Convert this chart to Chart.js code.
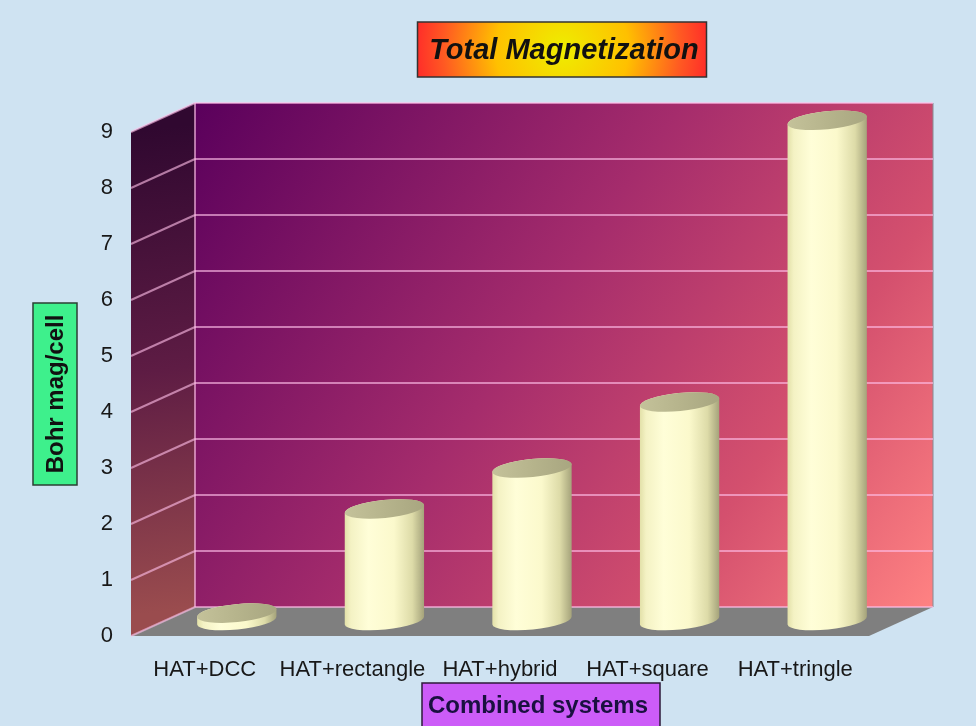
<!DOCTYPE html>
<html>
<head>
<meta charset="utf-8">
<script src="https://cdn.jsdelivr.net/npm/chart.js@4.4.1/dist/chart.umd.min.js"></script>
<style>
  html, body { margin: 0; padding: 0; background: #cfe3f2; }
  canvas { display: block; }
</style>
</head>
<body>
<canvas id="chart" width="976" height="726"></canvas>
<script>
// Data
const categories = ['HAT+DCC', 'HAT+rectangle', 'HAT+hybrid', 'HAT+square', 'HAT+tringle'];
const magnetization = [0.15, 2.01, 2.74, 3.92, 8.95];
const yTicks = [0, 1, 2, 3, 4, 5, 6, 7, 8, 9];
const chartTitle = 'Total Magnetization';
const yAxisTitle = 'Bohr mag/cell';
const xAxisTitle = 'Combined systems';

// Depth of the pseudo-3D box: the back wall is the chart area,
// the front edge sits DX/DY pixels away from it.
const DX = -64, DY = 29;
const GRID_COLOR = 'rgba(255, 190, 232, 0.62)';

const stage3d = {
  id: 'stage3d',
  beforeDraw(chart) {
    const ctx = chart.ctx;
    const a = chart.chartArea;
    const ys = chart.scales.y;
    ctx.save();
    ctx.fillStyle = '#cfe3f2';
    ctx.fillRect(0, 0, chart.width, chart.height);

    // back wall
    const g = ctx.createLinearGradient(a.left, a.top, a.right, a.bottom);
    g.addColorStop(0, '#5a005c');
    g.addColorStop(0.45, '#a52c6c');
    g.addColorStop(0.75, '#d4506e');
    g.addColorStop(1, '#ff8282');
    ctx.fillStyle = g;
    ctx.fillRect(a.left, a.top, a.right - a.left, a.bottom - a.top);
    ctx.strokeStyle = 'rgba(140,140,150,0.7)';
    ctx.lineWidth = 1.5;
    ctx.beginPath();
    ctx.moveTo(a.right, a.top);
    ctx.lineTo(a.right, a.bottom);
    ctx.stroke();

    // left side wall
    const sg = ctx.createLinearGradient(a.left + DX, a.top + DY, a.left, a.bottom);
    sg.addColorStop(0, '#300830');
    sg.addColorStop(0.5, '#5e1c44');
    sg.addColorStop(1, '#9a4c4e');
    ctx.fillStyle = sg;
    ctx.beginPath();
    ctx.moveTo(a.left + DX, a.top + DY);
    ctx.lineTo(a.left, a.top);
    ctx.lineTo(a.left, a.bottom);
    ctx.lineTo(a.left + DX, a.bottom + DY);
    ctx.closePath();
    ctx.fill();

    // floor
    ctx.fillStyle = '#7f7f7f';
    ctx.beginPath();
    ctx.moveTo(a.left, a.bottom);
    ctx.lineTo(a.right, a.bottom);
    ctx.lineTo(a.right + DX, a.bottom + DY);
    ctx.lineTo(a.left + DX, a.bottom + DY);
    ctx.closePath();
    ctx.fill();

    // grid on the side wall, following the y scale
    ctx.strokeStyle = GRID_COLOR;
    ctx.lineWidth = 2;
    ys.ticks.forEach(t => {
      const py = ys.getPixelForValue(t.value);
      ctx.beginPath();
      ctx.moveTo(a.left, py);
      ctx.lineTo(a.left + DX, py + DY);
      ctx.stroke();
    });
    ctx.beginPath();
    ctx.moveTo(a.left, a.top);
    ctx.lineTo(a.left, a.bottom);
    ctx.stroke();
    ctx.restore();
  },

  afterDatasetsDraw(chart) {
    const ctx = chart.ctx;
    const meta = chart.getDatasetMeta(0);
    meta.data.forEach(bar => {
      const p = bar.getProps(['x', 'y', 'base', 'width'], true);
      drawCylinder(ctx, p.x + DX / 2, p.y + DY / 2, p.base + DY / 2, p.width);
    });
  },

  afterDraw(chart) {
    const ctx = chart.ctx;
    const a = chart.chartArea;
    ctx.save();

    // main title box
    const cx = (a.left + a.right) / 2 - 2;
    const tw = 289, th = 55, tx = cx - tw / 2, ty = 22;
    const rg = ctx.createRadialGradient(cx, ty + th / 2, 0, cx, ty + th / 2, 148);
    rg.addColorStop(0, '#eeee00');
    rg.addColorStop(0.45, '#ffc000');
    rg.addColorStop(0.8, '#ff5a22');
    rg.addColorStop(1, '#ff2a2a');
    ctx.fillStyle = rg;
    ctx.fillRect(tx, ty, tw, th);
    ctx.strokeStyle = '#333';
    ctx.lineWidth = 1.5;
    ctx.strokeRect(tx, ty, tw, th);
    ctx.fillStyle = '#111';
    ctx.font = 'italic bold 29px "Liberation Sans", Arial, sans-serif';
    ctx.textAlign = 'center';
    ctx.textBaseline = 'middle';
    ctx.fillText(chartTitle, cx + 2, ty + th / 2 + 1);

    // y axis title box
    const yb = { x: 33, y: 303, w: 44, h: 182 };
    ctx.fillStyle = '#3ef08c';
    ctx.fillRect(yb.x, yb.y, yb.w, yb.h);
    ctx.strokeStyle = '#2b3f33';
    ctx.strokeRect(yb.x, yb.y, yb.w, yb.h);
    ctx.save();
    ctx.translate(yb.x + yb.w / 2 + 1, yb.y + yb.h / 2);
    ctx.rotate(-Math.PI / 2);
    ctx.fillStyle = '#111';
    ctx.font = 'bold 24px "Liberation Sans", Arial, sans-serif';
    ctx.fillText(yAxisTitle, 0, 0);
    ctx.restore();

    // x axis title box
    const xb = { x: 422, y: 683, w: 238, h: 44 };
    ctx.fillStyle = '#cc5cf8';
    ctx.fillRect(xb.x, xb.y, xb.w, xb.h);
    ctx.strokeStyle = '#2e1a3a';
    ctx.strokeRect(xb.x, xb.y, xb.w, xb.h);
    ctx.fillStyle = '#1a1040';
    ctx.font = 'bold 24px "Liberation Sans", Arial, sans-serif';
    ctx.fillText(xAxisTitle, xb.x + xb.w / 2 - 3, 706);
    ctx.restore();
  }
};

function drawCylinder(ctx, cx, yTop, yBase, w) {
  const rx = w / 2, ry = 9, rot = -0.1;
  ctx.save();
  const body = ctx.createLinearGradient(cx - rx, 0, cx + rx, 0);
  body.addColorStop(0, '#e2e0a8');
  body.addColorStop(0.08, '#f4f2c4');
  body.addColorStop(0.3, '#fffed8');
  body.addColorStop(0.62, '#fbf9cc');
  body.addColorStop(0.85, '#dddba8');
  body.addColorStop(1, '#a4a27a');
  ctx.fillStyle = body;
  ctx.beginPath();
  ctx.ellipse(cx, yBase, rx, ry, rot, 0, Math.PI);
  ctx.ellipse(cx, yTop, rx, ry, rot, Math.PI, 2 * Math.PI);
  ctx.closePath();
  ctx.fill();

  const cap = ctx.createLinearGradient(cx - rx, 0, cx + rx, 0);
  cap.addColorStop(0, '#c4c29a');
  cap.addColorStop(0.5, '#b6b48c');
  cap.addColorStop(1, '#a8a680');
  ctx.fillStyle = cap;
  ctx.beginPath();
  ctx.ellipse(cx, yTop, rx, ry, rot, 0, 2 * Math.PI);
  ctx.fill();
  ctx.restore();
}

new Chart(document.getElementById('chart'), {
  type: 'bar',
  data: {
    labels: categories,
    datasets: [{
      data: magnetization,
      backgroundColor: 'rgba(0,0,0,0)',
      borderWidth: 0,
      barPercentage: 0.54,
      categoryPercentage: 1
    }]
  },
  options: {
    responsive: false,
    animation: false,
    devicePixelRatio: 1,
    layout: { padding: { top: 103, right: 43, bottom: 0, left: 0 } },
    plugins: {
      legend: { display: false },
      title: { display: false },
      tooltip: { enabled: false }
    },
    scales: {
      x: {
        grid: { display: false, drawTicks: false },
        border: { display: false },
        ticks: {
          labelOffset: DX,
          padding: 50,
          autoSkip: false,
          maxRotation: 0,
          minRotation: 0,
          color: '#181818',
          font: { family: '"Liberation Sans", Arial, sans-serif', size: 22 }
        },
        afterFit(s) { s.height = 119; }
      },
      y: {
        min: 0,
        max: 9,
        afterBuildTicks(s) { s.ticks = yTicks.map(v => ({ value: v })); },
        grid: { color: GRID_COLOR, lineWidth: 2, drawTicks: false },
        border: { display: false },
        ticks: {
          labelOffset: DY,
          padding: 82,
          color: '#181818',
          font: { family: '"Liberation Sans", Arial, sans-serif', size: 22 }
        },
        afterFit(s) { s.width = 195; }
      }
    }
  },
  plugins: [stage3d]
});
</script>
</body>
</html>
